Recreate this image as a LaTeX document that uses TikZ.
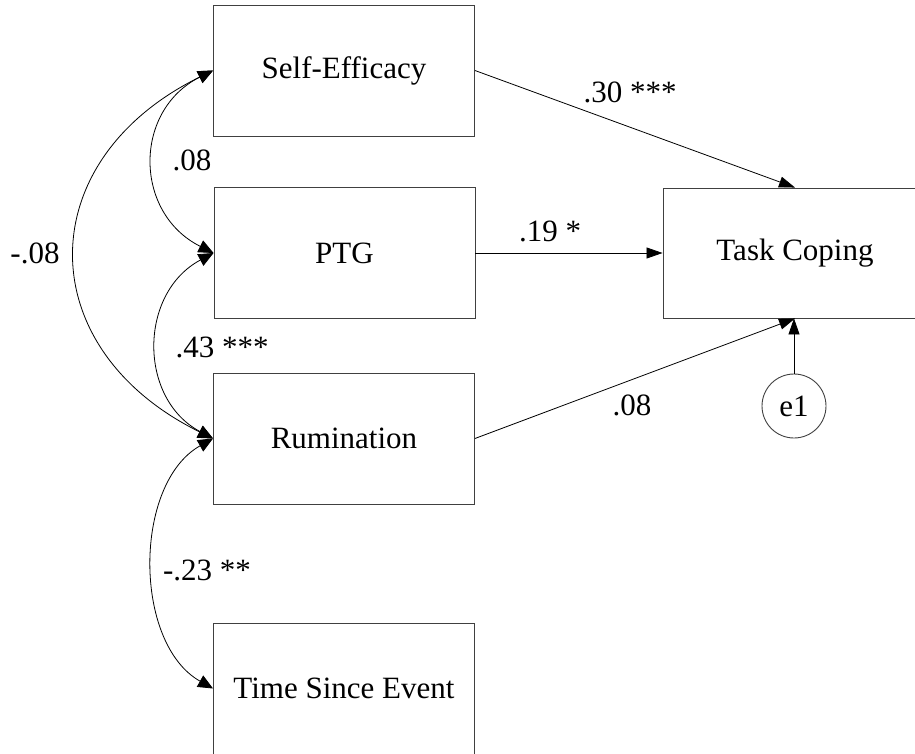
\documentclass[tikz,border=0pt]{standalone}
\usepackage{fontspec}
\setmainfont{Liberation Serif}
\usetikzlibrary{arrows.meta,calc}
\begin{document}
\begin{tikzpicture}[x=1pt,y=-1pt,
  every node/.style={font=\fontsize{31}{36}\selectfont},
  var/.style={draw=black!75,line width=0.9pt,minimum width=261pt,minimum height=131pt,inner sep=0pt},
  err/.style={draw=black!75,line width=0.9pt,circle,minimum size=64pt,inner sep=0pt},
  path/.style={draw,line width=0.8pt,-{Triangle[length=16pt,width=11pt]}},
  cov/.style={draw,line width=0.8pt,{Triangle[length=15pt,width=13pt]}-{Triangle[length=15pt,width=13pt]}},
  lbl/.style={inner sep=0pt}]
\clip (0,0) rectangle (915,754);
\node[var] (se) at (344,70.5) {Self-Efficacy};
\node[var] (ptg) at (344.5,253) {PTG};
\node[var] (rum) at (344,438.5) {Rumination};
\node[var] (tse) at (344,688.5) {Time Since Event};
\node[var,minimum width=264pt,minimum height=130pt] (tc) at (795,253) {Task Coping};
\node[err] (e1) at (794,406) {e1};

\draw[path] (se.east) -- (tc.north);
\draw[path] (ptg.east) -- (tc.west);
\draw[path] (rum.east) -- (tc.south);
\draw[path] (e1.north) -- (e1.north |- tc.south);

\draw[cov] (se.west) .. controls ($(se.west)+(-80,40)$) and ($(ptg.west)+(-80,-40)$) .. (ptg.west);
\draw[cov] (ptg.west) .. controls ($(ptg.west)+(-75,40)$) and ($(rum.west)+(-75,-40)$) .. (rum.west);
\draw[cov] (rum.west) .. controls ($(rum.west)+(-80,45)$) and ($(tse.west)+(-80,-45)$) .. (tse.west);
\draw[cov] (se.west) .. controls ($(se.west)+(-183,90)$) and ($(rum.west)+(-183,-90)$) .. (rum.west);

\node[lbl] (l1) at (630,92) {.30 ***};
\node[lbl] (l2) at (550,231) {.19 *};
\node[lbl] (l3) at (632,405) {.08};
\node[lbl] (l4) at (192,160) {.08};
\node[lbl] (l5) at (222,347) {.43 ***};
\node[lbl] (l6) at (207,570) {-.23 **};
\node[lbl] (l7) at (35,253) {-.08};
\end{tikzpicture}
\end{document}
